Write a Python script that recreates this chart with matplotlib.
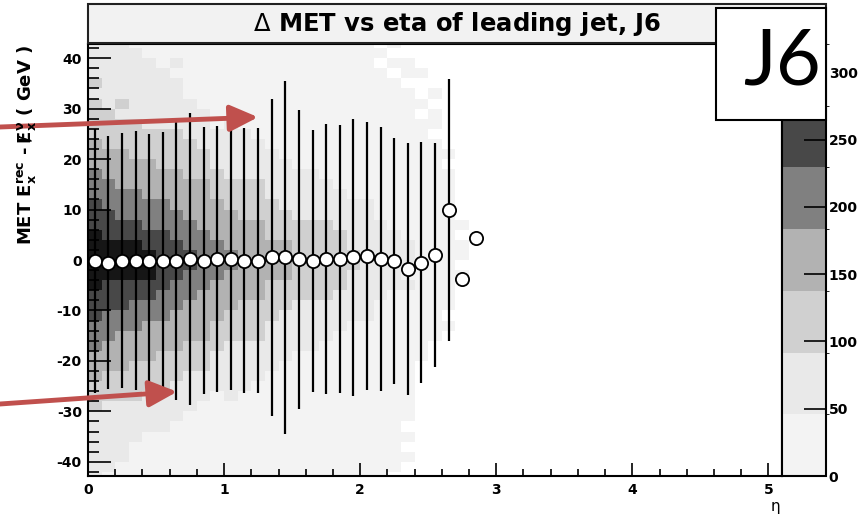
import numpy as np
import matplotlib
matplotlib.use("Agg")
import matplotlib.pyplot as plt
from matplotlib.colors import ListedColormap, BoundaryNorm
from matplotlib.patches import Rectangle

plt.rcParams['axes.unicode_minus'] = False

# ---------------- data ----------------
eta_centers = [0.05, 0.15, 0.25, 0.35, 0.45, 0.55, 0.65, 0.75, 0.85, 0.95,
               1.05, 1.15, 1.25, 1.35, 1.45, 1.55, 1.65, 1.75, 1.85, 1.95,
               2.05, 2.15, 2.25, 2.35, 2.45, 2.55, 2.65, 2.75, 2.85]
met_mean = [-0.2, -0.5, -0.1, -0.1, -0.1, -0.1, -0.1, 0.2, -0.1, 0.2,
            0.2, -0.1, -0.1, 0.5, 0.5, 0.1, -0.2, 0.2, 0.2, 0.5,
            0.8, 0.2, -0.2, -1.8, -0.5, 1.0, 9.9, -3.8, 4.4]
met_rms = [26.1, 25.1, 25.3, 25.7, 25.1, 25.4, 27.6, 29.0, 26.4, 26.3,
           25.9, 26.3, 26.3, 31.4, 34.9, 29.6, 26.0, 26.8, 26.6, 27.5,
           26.5, 26.1, 24.3, 24.9, 23.9, 22.2, 26.0, 0.0, 0.0]

# 2D histogram background (eta bins of 0.1 from 0 to 3.0, MET bins of 2 GeV
# from +44 down to -44); each digit is the colour band of the cell (0 = empty)
hist_eta_edges = [round(0.1 * i, 1) for i in range(31)]
hist_met_edges = list(range(-44, 45, 2))
hist_rows = [
    "22211 1111 1111 1111 111 1010 000 000",
    "22221 1111 1111 1111 111 1100 000 000",
    "22222 1211 1111 1111 111 1011 000 000",
    "22222 2111 1111 1111 111 1101 100 000",
    "32222 2211 1111 1111 111 1110 000 000",
    "22222 2211 1111 1111 111 1111 010 000",
    "32322 2221 1111 1111 111 1111 100 000",
    "33222 2222 1111 1111 111 1111 010 000",
    "33332 2222 1211 1111 111 1111 110 000",
    "33333 3322 2221 1111 111 1111 100 000",
    "43333 3332 2222 1111 111 1111 110 000",
    "44433 3333 2222 2111 111 1111 111 000",
    "44444 3333 2222 2211 111 1111 110 000",
    "54444 4433 3222 2222 111 1111 111 000",
    "55444 4444 3333 2222 211 1111 111 000",
    "55554 4444 3333 2222 221 1111 111 000",
    "65555 5444 4333 3222 222 2111 111 000",
    "66555 5544 4433 3322 222 2111 111 000",
    "66665 5554 4444 3333 322 2211 111 100",
    "76666 6555 4444 3333 332 2221 111 000",
    "77776 6655 5444 4433 332 2222 111 100",
    "77777 6665 5544 4433 333 2222 111 100",
    "77777 6665 5544 4433 333 2222 111 000",
    "77777 6655 5444 4433 332 2221 111 100",
    "76666 6555 4444 3333 332 2222 111 000",
    "66666 5554 4444 3333 322 2211 111 000",
    "66655 5544 4433 3322 222 2111 111 000",
    "65555 5444 4333 3222 222 2111 110 000",
    "55554 4444 3333 2222 221 1111 111 000",
    "55444 4444 3333 2222 211 1111 110 000",
    "54444 4433 3222 2222 111 1111 100 000",
    "44444 3333 2222 2211 111 1111 100 000",
    "44433 3333 2222 2111 111 1111 000 000",
    "43333 3322 2222 1111 111 1111 000 000",
    "33333 3222 2221 1111 111 1111 000 000",
    "33332 2222 1211 1111 111 1111 000 000",
    "32222 2221 1111 1111 111 1111 000 000",
    "22222 2211 1111 1111 111 1111 000 000",
    "22222 2111 1111 1111 111 1110 000 000",
    "22221 1111 1111 1111 111 1111 000 000",
    "22211 1111 1111 1111 111 1110 000 000",
    "22211 1111 1111 1111 111 1111 000 000",
    "22111 1111 1111 1111 111 1110 000 000",
    "21111 1111 1111 1111 111 1100 000 000",
]
cbar_levels = [0, 45.9, 91.7, 137.6, 183.4, 229.3, 275.1, 321.0]
cbar_ticks = [0, 50, 100, 150, 200, 250, 300]
band_colors = ['#f3f3f3', '#e9e9e9', '#d0d0d0', '#b2b2b2',
               '#808080', '#484848', '#161616']
x_ticks = [0, 1, 2, 3, 4, 5]
y_ticks = [-40, -30, -20, -10, 0, 10, 20, 30, 40]

title = r"$\Delta$ MET vs eta of leading jet, J6"
ylabel = (r"MET $\mathbf{E}_{\mathbf{x}}^{\mathbf{rec}}$ - "
          r"$\mathbf{/\!\!\!E}_{\mathbf{x}}^{\mathbf{\nu}}$ ( GeV )")

# ---------------- figure ----------------
W, H = 865, 520
fig = plt.figure(figsize=(W / 100, H / 100), dpi=100)

def fx(px):
    return px / W

def fy(py):
    return 1 - py / H

ax = fig.add_axes([fx(88), fy(476), fx(782) - fx(88), fy(44) - fy(476)])
cax = fig.add_axes([fx(782), fy(476), fx(826) - fx(782), fy(44) - fy(476)])

# histogram cells -> counts (middle of band)
levels = np.array([[int(ch) for ch in r.replace(" ", "")] for r in hist_rows])[::-1]
mids = [(cbar_levels[i] + cbar_levels[i + 1]) / 2 for i in range(7)]
counts = np.full(levels.shape, np.nan)
for k in range(1, 8):
    counts[levels == k] = mids[k - 1]

cmap = ListedColormap(band_colors)
cmap.set_bad((1, 1, 1, 0))
norm = BoundaryNorm(cbar_levels, cmap.N)
mesh = ax.pcolormesh(hist_eta_edges, hist_met_edges, np.ma.masked_invalid(counts),
                     cmap=cmap, norm=norm, shading='flat', zorder=1)

ax.errorbar(eta_centers, met_mean, yerr=met_rms, fmt='o', ms=9.5,
            mfc='white', mec='black', mew=1.3, ecolor='black',
            elinewidth=1.6, capsize=0, zorder=3)

ax.set_xlim(0, 5.1)
ax.set_ylim(-42.8, 42.8)
ax.set_xticks(x_ticks)
ax.set_yticks(y_ticks)
ax.set_xticks(np.arange(0, 5.1, 0.2), minor=True)
ax.set_yticks(np.arange(-42, 43, 2), minor=True)
ax.tick_params(axis='y', which='major', direction='in', length=16.5, width=1.2, pad=4.5)
ax.tick_params(axis='y', which='minor', direction='in', length=8, width=1.2)
ax.tick_params(axis='x', which='major', direction='in', length=9.5, width=1.2, pad=5)
ax.tick_params(axis='x', which='minor', direction='in', length=5, width=1.2)
for lab in ax.get_xticklabels() + ax.get_yticklabels():
    lab.set_fontweight('bold')
    lab.set_fontsize(10)
    lab.set_family('DejaVu Sans')
for s in ax.spines.values():
    s.set_linewidth(1.5)

cb = fig.colorbar(mesh, cax=cax, ticks=cbar_ticks)
cb.outline.set_linewidth(1.5)
cax.set_ylim(0, 321)
cax.tick_params(axis='y', direction='in', length=16, width=1.2, pad=2, right=True, left=False,
                labelright=True, labelleft=False)
for lab in cax.get_yticklabels():
    lab.set_fontweight('bold')
    lab.set_fontsize(10)

# title box
fig.add_artist(Rectangle((fx(88), fy(43)), fx(826) - fx(88), fy(4) - fy(43),
                         transform=fig.transFigure, facecolor='#f2f2f2',
                         edgecolor='#222222', lw=1.5, zorder=5))
fig.text(fx(457), fy(24), title, ha='center', va='center', fontsize=17.5,
         fontweight='bold', family='DejaVu Sans', zorder=6)

# J6 box
fig.add_artist(Rectangle((fx(716), fy(120)), fx(826) - fx(716), fy(8) - fy(120),
                         transform=fig.transFigure, facecolor='white',
                         edgecolor='black', lw=1.5, zorder=7))
fig.text(fx(782), fy(63), "J6", ha='center', va='center', fontsize=56,
         family='Lato', zorder=8)

# axis labels
fig.text(fx(27), fy(145), ylabel, rotation=90, ha='center', va='center',
         fontsize=13, fontweight='bold')
fig.text(fx(775), fy(507), "η", ha='center', va='center', fontsize=11)

# red arrows
red = '#c0504d'
for tip, tail in [((1.25, 28.3), (0.0, fy(127))), ((0.655, -26.1), (0.0, fy(404)))]:
    ax.annotate('', xy=tip, xycoords='data', xytext=tail, textcoords='figure fraction',
                arrowprops=dict(arrowstyle='-|>,head_length=0.85,head_width=0.4',
                                color=red, lw=3.5, mutation_scale=20,
                                shrinkA=0, shrinkB=0),
                annotation_clip=False, zorder=10)

fig.savefig("out.png", dpi=100)
